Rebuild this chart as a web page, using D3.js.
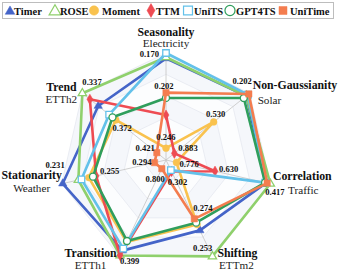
<!DOCTYPE html>
<html>
<head>
<meta charset="utf-8">
<script src="https://cdn.jsdelivr.net/npm/d3@7"></script>
<style>
body { margin: 0; background: #fff; }
</style>
</head>
<body>
<svg id="radar" width="338" height="272"></svg>
<script>
// axes clockwise from the top, with the dataset used for each
const axes = ["Seasonality", "Non-Gaussianity", "Correlation", "Shifting", "Transition", "Stationarity", "Trend"];
const datasets = ["Electricity", "Solar", "Traffic", "ETTm2", "ETTh1", "Weather", "ETTh2"];

const models = ["Timer", "ROSE", "Moment", "TTM", "UniTS", "GPT4TS", "UniTime"];
const colors = ["#4464c8", "#8fd06c", "#f9c24e", "#ee4b52", "#63c1ea", "#2f9e5c", "#f47d4f"];

// normalised score per axis (1 = best, outer ring)
const timer   = [0.95, 0.96, 0.96, 0.73, 0.94, 0.99, 0.81];
const rose    = [0.96, 0.96, 1.00, 1.00, 0.99, 0.84, 1.00];
const moment  = [0.11, 0.57, 0.10, 0.67, 0.85, 0.74, 0.60];
const ttm     = [0.42, 0.10, 0.47, 0.12, 0.99, 0.67, 0.91];
const units   = [1.00, 0.98, 0.95, 0.105, 0.92, 0.81, 0.68];
const gpt4ts  = [0.58, 0.93, 0.95, 0.65, 0.84, 0.70, 0.64];
const unitime = [0.63, 0.99, 0.97, 0.61, 0.09, 0.11, 0.11];
const scores = [timer, rose, moment, ttm, units, gpt4ts, unitime];

// error values written on the chart: text, model index, axis index
const annText  = ["0.170", "0.202", "0.417", "0.253", "0.399", "0.231", "0.337",
                  "0.202", "0.530", "0.246", "0.883", "0.421", "0.294", "0.776",
                  "0.630", "0.800", "0.302", "0.372", "0.255", "0.274"];
const annModel = [4, 6, 1, 1, 3, 0, 1, 6, 2, 2, 3, 6, 6, 2, 3, 6, 4, 5, 5, 6];
const annAxis  = [0, 1, 2, 3, 4, 5, 6, 0, 1, 0, 1, 6, 5, 2, 2, 4, 3, 6, 5, 3];

const gridLevels = [0.2, 0.4, 0.6, 0.8, 1.0];

const FONT = "'Liberation Serif', 'Times New Roman', Times, 'DejaVu Serif', serif";
const svg = d3.select("#radar").attr("font-family", FONT);
const cx = 166, cy = 160, R = 107;
const r = d3.scaleLinear().domain([0, 1]).range([0, R]);
const angle = d3.scaleLinear().domain([0, axes.length]).range([0, 2 * Math.PI]);

function pt(i, v) {
	let a = angle(i);
	return [cx + Math.sin(a) * r(v), cy - Math.cos(a) * r(v)];
}

// grid bands
let g = svg.append("g");
gridLevels.slice().reverse().forEach(function(lv, k) {
	g.append("polygon")
		.attr("points", axes.map((d, i) => pt(i, lv).join(",")).join(" "))
		.attr("fill", k % 2 == 0 ? "#f5f7fb" : "#fcfdfe")
		.attr("stroke", "#e6e9f0")
		.attr("stroke-width", 0.8);
});
g.selectAll("line.spoke")
	.data(axes)
	.enter().append("line")
	.attr("class", "spoke")
	.attr("x1", cx).attr("y1", cy)
	.attr("x2", (d, i) => pt(i, 1)[0])
	.attr("y2", (d, i) => pt(i, 1)[1])
	.attr("stroke", "#c4c4c4")
	.attr("stroke-width", 0.8);

// series
let line = d3.lineRadial()
	.angle((d, i) => angle(i))
	.radius(d => r(d))
	.curve(d3.curveLinearClosed);

const symbols = [d3.symbolTriangle, d3.symbolTriangle, d3.symbolCircle, d3.symbolDiamond,
                 d3.symbolSquare, d3.symbolCircle, d3.symbolSquare];
const hollow = [false, true, false, false, true, true, false];
const msize = [30, 30, 36, 30, 42, 38, 40];

models.forEach(function(m, k) {
	let sg = svg.append("g");
	sg.append("path")
		.datum(scores[k])
		.attr("transform", `translate(${cx},${cy})`)
		.attr("d", line)
		.attr("fill", "none")
		.attr("stroke", colors[k])
		.attr("stroke-width", 2.6)
		.attr("stroke-linejoin", "round");
	sg.selectAll("path.mk")
		.data(scores[k])
		.enter().append("path")
		.attr("class", "mk")
		.attr("transform", (d, i) => `translate(${pt(i, d)})`)
		.attr("d", d3.symbol().type(symbols[k]).size(msize[k]))
		.attr("fill", hollow[k] ? "#fff" : colors[k])
		.attr("stroke", colors[k])
		.attr("stroke-width", hollow[k] ? 1.3 : 0.5);
});

// axis titles and datasets
const titleOff = [[0, -17, "middle"], [3, -4, "start"], [32, -4, "middle"], [25, 1, "middle"],
                  [-29, 1, "middle"], [-30, -5, "middle"], [-21, -2, "middle"]];
const dsOff = [[0, -6, "middle"], [8, 11, "start"], [33, 10, "middle"], [24, 13, "middle"],
               [-29, 13, "middle"], [-30, 8, "middle"], [-21, 10, "middle"]];
axes.forEach(function(a, i) {
	let p = pt(i, 1);
	svg.append("text")
		.attr("x", p[0] + titleOff[i][0]).attr("y", p[1] + titleOff[i][1])
		.attr("text-anchor", titleOff[i][2])
		.attr("font-family", FONT)
		.attr("font-weight", "bold").attr("font-size", 11.8)
		.attr("fill", "#111")
		.text(a);
	svg.append("text")
		.attr("x", p[0] + dsOff[i][0]).attr("y", p[1] + dsOff[i][1])
		.attr("text-anchor", dsOff[i][2])
		.attr("font-family", FONT)
		.attr("font-size", 11.2)
		.attr("fill", "#222")
		.text(datasets[i]);
});

// value annotations
const annOff = [[-7, 4, "end"], [3, -10, "end"], [-5, 11, "start"], [0, -5, "end"], [0, 9, "start"],
                [2, -16, "end"], [0, -8, "start"], [-2, -4, "middle"], [2, -5, "middle"], [0, -8, "middle"],
                [4, -2, "start"], [-2, -2, "end"], [-3, 2, "end"], [3, 5, "start"], [4, 1, "start"],
                [3, 13, "end"], [-3, 15, "start"], [0, 14, "start"], [7, -3, "start"], [-1, -8, "start"]];
annText.forEach(function(t, j) {
	let p = pt(annAxis[j], scores[annModel[j]][annAxis[j]]);
	svg.append("text")
		.attr("x", p[0] + annOff[j][0]).attr("y", p[1] + annOff[j][1])
		.attr("text-anchor", annOff[j][2])
		.attr("font-family", FONT)
		.attr("font-weight", "bold").attr("font-size", 8.6)
		.attr("fill", "#111")
		.text(t);
});

// legend
let lg = svg.append("g");
lg.append("rect")
	.attr("x", 2.5).attr("y", 2.5).attr("width", 331).attr("height", 16)
	.attr("fill", "#fff").attr("stroke", "#bdbdbd").attr("stroke-width", 1);
const legX = [10, 55, 94, 151, 188, 230, 283];
const legText = [14, 60, 102, 156, 194, 236, 290];
const legSize = [40, 60, 70, 55, 80, 80, 64];
models.forEach(function(m, k) {
	lg.append("path")
		.attr("transform", `translate(${legX[k]},${k < 2 ? 11.5 : 10.5})`)
		.attr("d", d3.symbol().type(symbols[k]).size(legSize[k]))
		.attr("fill", hollow[k] ? "#fff" : colors[k])
		.attr("stroke", colors[k])
		.attr("stroke-width", hollow[k] ? 1.2 : 0.5);
	lg.append("text")
		.attr("x", legText[k]).attr("y", 14.5)
		.attr("font-family", FONT)
		.attr("font-weight", "bold").attr("font-size", 10.5)
		.attr("fill", "#111")
		.text(m);
});
</script>
</body>
</html>
